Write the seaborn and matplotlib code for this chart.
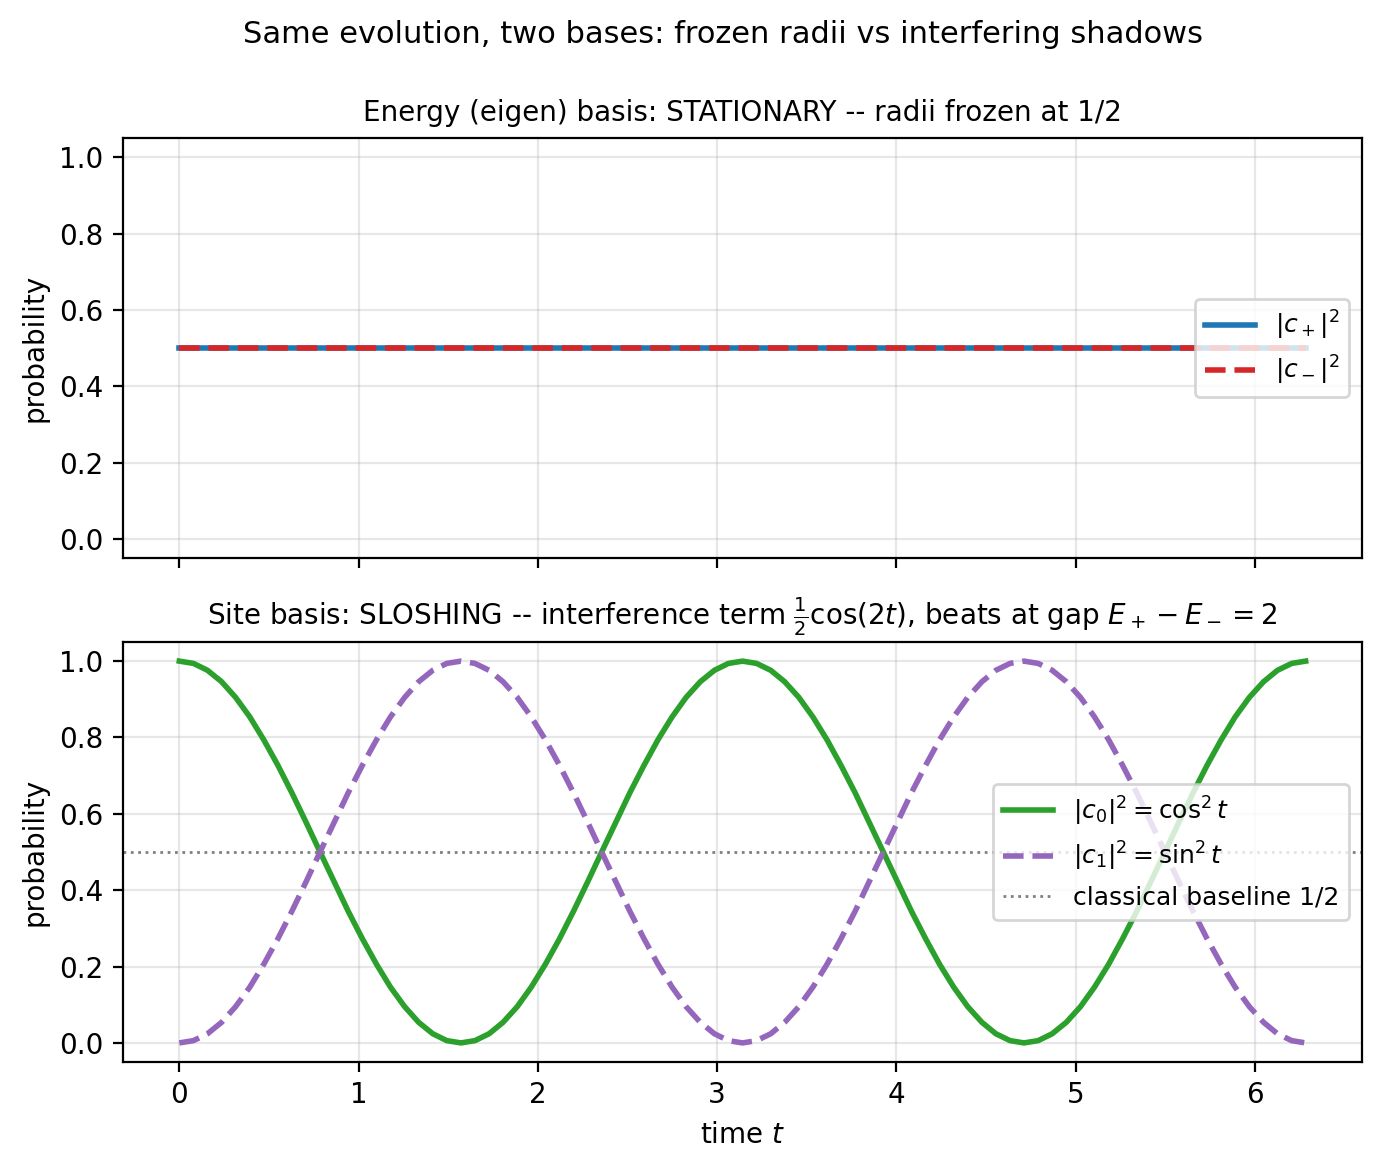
import matplotlib
matplotlib.use("Agg")
import matplotlib.pyplot as plt
import seaborn as sns

t = [0.000, 0.079, 0.157, 0.236, 0.314, 0.393, 0.471, 0.550, 0.628, 0.707,
     0.785, 0.864, 0.942, 1.021, 1.100, 1.178, 1.257, 1.335, 1.414, 1.492,
     1.571, 1.649, 1.728, 1.806, 1.885, 1.963, 2.042, 2.121, 2.199, 2.278,
     2.356, 2.435, 2.513, 2.592, 2.670, 2.749, 2.827, 2.906, 2.985, 3.063,
     3.142, 3.220, 3.299, 3.377, 3.456, 3.534, 3.613, 3.691, 3.770, 3.848,
     3.927, 4.006, 4.084, 4.163, 4.241, 4.320, 4.398, 4.477, 4.555, 4.634,
     4.712, 4.791, 4.869, 4.948, 5.027, 5.105, 5.184, 5.262, 5.341, 5.419,
     5.498, 5.576, 5.655, 5.733, 5.812, 5.890, 5.969, 6.048, 6.126, 6.205,
     6.283]

# energy basis: frozen at 1/2
p_plus = [0.5] * len(t)
p_minus = [0.5] * len(t)

# site basis, |c0|^2
p0 = [1.000, 0.994, 0.976, 0.946, 0.905, 0.854, 0.794, 0.727, 0.655, 0.578,
      0.500, 0.422, 0.345, 0.273, 0.206, 0.146, 0.095, 0.054, 0.024, 0.006,
      0.000, 0.006, 0.024, 0.054, 0.095, 0.146, 0.206, 0.273, 0.345, 0.422,
      0.500, 0.578, 0.655, 0.727, 0.794, 0.854, 0.905, 0.946, 0.976, 0.994,
      1.000, 0.994, 0.976, 0.946, 0.905, 0.854, 0.794, 0.727, 0.655, 0.578,
      0.500, 0.422, 0.345, 0.273, 0.206, 0.146, 0.095, 0.054, 0.024, 0.006,
      0.000, 0.006, 0.024, 0.054, 0.095, 0.146, 0.206, 0.273, 0.345, 0.422,
      0.500, 0.578, 0.655, 0.727, 0.794, 0.854, 0.905, 0.946, 0.976, 0.994,
      1.000]
# site basis, |c1|^2
p1 = [0.000, 0.006, 0.024, 0.054, 0.095, 0.146, 0.206, 0.273, 0.345, 0.422,
      0.500, 0.578, 0.655, 0.727, 0.794, 0.854, 0.905, 0.946, 0.976, 0.994,
      1.000, 0.994, 0.976, 0.946, 0.905, 0.854, 0.794, 0.727, 0.655, 0.578,
      0.500, 0.422, 0.345, 0.273, 0.206, 0.146, 0.095, 0.054, 0.024, 0.006,
      0.000, 0.006, 0.024, 0.054, 0.095, 0.146, 0.206, 0.273, 0.345, 0.422,
      0.500, 0.578, 0.655, 0.727, 0.794, 0.854, 0.905, 0.946, 0.976, 0.994,
      1.000, 0.994, 0.976, 0.946, 0.905, 0.854, 0.794, 0.727, 0.655, 0.578,
      0.500, 0.422, 0.345, 0.273, 0.206, 0.146, 0.095, 0.054, 0.024, 0.006,
      0.000]
baseline = 0.5

fig, (ax1, ax2) = plt.subplots(2, 1, figsize=(6.91, 5.85), dpi=200, sharex=True)
fig.subplots_adjust(left=0.089, right=0.9855, top=0.882, bottom=0.0923, hspace=0.2)

# top panel
sns.lineplot(x=t, y=p_plus, ax=ax1, color="tab:blue", lw=2, label=r"$|c_+|^2$")
sns.lineplot(x=t, y=p_minus, ax=ax1, color="tab:red", lw=2, ls="--", label=r"$|c_-|^2$")
ax1.set_ylim(-0.05, 1.05)
ax1.set_ylabel("probability")
ax1.set_title("Energy (eigen) basis: STATIONARY -- radii frozen at 1/2", fontsize=10)
ax1.grid(True, alpha=0.3)
ax1.legend(loc="center right", fontsize=9)

# bottom panel
sns.lineplot(x=t, y=p0, ax=ax2, color="tab:green", lw=2, label=r"$|c_0|^2=\cos^2 t$")
sns.lineplot(x=t, y=p1, ax=ax2, color="tab:purple", lw=2, ls="--", label=r"$|c_1|^2=\sin^2 t$")
ax2.axhline(baseline, color="gray", lw=1, ls=":", label="classical baseline 1/2")
ax2.set_ylim(-0.05, 1.05)
ax2.set_ylabel("probability")
ax2.set_xlabel("time $t$")
ax2.set_title(r"Site basis: SLOSHING -- interference term $\frac{1}{2}\cos(2t)$, beats at gap $E_+-E_-=2$",
              fontsize=10)
ax2.grid(True, alpha=0.3)
ax2.legend(loc="center right", fontsize=9)

fig.suptitle("Same evolution, two bases: frozen radii vs interfering shadows",
             fontsize=11, x=0.523, y=0.983)
fig.savefig("out.png", dpi=200)
